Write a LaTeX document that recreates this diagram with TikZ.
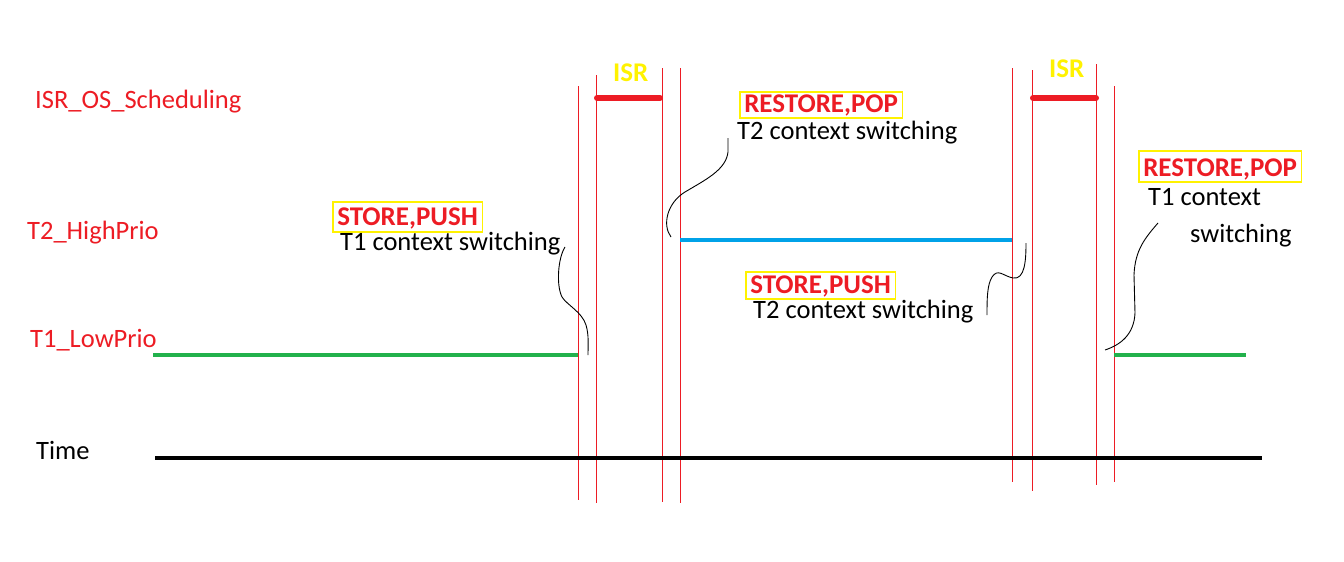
\documentclass[tikz,border=0pt]{standalone}
\usepackage{fontspec}
\setmainfont{Carlito}
\definecolor{pred}{HTML}{ED1C24}
\definecolor{pgreen}{HTML}{22B14C}
\definecolor{pblue}{HTML}{00A2E8}
\definecolor{pyellow}{HTML}{FFF200}
\begin{document}
\begin{tikzpicture}[x=1pt,y=-1pt,
  lbl/.style={font=\fontsize{26.5}{30}\selectfont, inner sep=0pt, anchor=base west},
  rlbl/.style={lbl, text=pred},
  isrlbl/.style={font=\bfseries\fontsize{27}{30}\selectfont, text=pyellow, inner sep=0pt, anchor=base west},
  tag/.style={font=\bfseries\fontsize{27}{30}\selectfont, text=pred, draw=pyellow, line width=1.5pt, inner xsep=4.5pt, inner ysep=0pt, text depth=6pt, anchor=base west},
  vline/.style={draw=pred, line width=1pt},
  isrbar/.style={draw=pred, line width=6pt, line cap=round},
  task1/.style={draw=pgreen, line width=4pt},
  task2/.style={draw=pblue, line width=4pt},
  timeline/.style={draw=black, line width=4pt},
  curvy/.style={draw=black, line width=0.9pt}
]
\useasboundingbox[fill=white] (0,0) rectangle (1344,562);

% row labels
\node[rlbl] (lisr) at (35,108) {ISR\_OS\_Scheduling};
\node[rlbl] (lt2) at (27,239) {T2\_HighPrio};
\node[rlbl] (lt1) at (30,347) {T1\_LowPrio};
\node[lbl] (ltime) at (36,459) {Time};

% vertical red lines
\foreach \n/\x/\t/\b in {v1/578/86/500, v2/596/75/503, v3/662/68/502, v4/680/68/503,
                         v5/1012/68/482, v6/1032/70/491, v7/1096/64/485, v8/1114/86/482} {
  \coordinate (\n t) at (\x,\t);
  \coordinate (\n b) at (\x,\b);
  \draw[vline] (\n t) -- (\n b);
}

% time axis
\coordinate (ta) at (155,458);
\coordinate (tb) at (1262,458);
\draw[timeline] (ta) -- (tb);

% ISR bars
\coordinate (i1a) at (597,98); \coordinate (i1b) at (660,98);
\coordinate (i2a) at (1033,98); \coordinate (i2b) at (1096,98);
\draw[isrbar] (i1a) -- (i1b);
\draw[isrbar] (i2a) -- (i2b);
\node[isrlbl] (isr1) at (613,81) {ISR};
\node[isrlbl] (isr2) at (1049,77) {ISR};

% tasks
\coordinate (g1a) at (153,355); \coordinate (g1b) at (578,355);
\coordinate (g2a) at (1114,355); \coordinate (g2b) at (1246,355);
\coordinate (b1a) at (680,240); \coordinate (b1b) at (1012,240);
\draw[task1] (g1a) -- (g1b);
\draw[task1] (g2a) -- (g2b);
\draw[task2] (b1a) -- (b1b);

% annotations
\node[tag, text height=23pt, text depth=7pt] (s1) at (332,225) {STORE,PUSH};
\node[lbl] (s1t) at (340,250) {T1 context switching};
\node[tag, text height=20pt] (r1) at (739,112) {RESTORE,POP};
\node[lbl] (r1t) at (737,139) {T2 context switching};
\node[tag, text height=21pt] (s2) at (745,293) {STORE,PUSH};
\node[lbl] (s2t) at (753,318) {T2 context switching};
\node[tag, text height=25pt] (r2) at (1138,176) {RESTORE,POP};
\node[lbl] (r2t) at (1148,205) {T1 context};
\node[lbl] (r2u) at (1190,242) {switching};

% squiggly pointers
\coordinate (c1a) at (565,247); \coordinate (c1b) at (588,355);
\draw[curvy] (c1a) .. controls (558,258) and (556,285) .. (562,297)
  .. controls (567,305) and (582,312) .. (586,325)
  .. controls (589,335) and (588,345) .. (c1b);
\coordinate (c2a) at (728,138); \coordinate (c2b) at (671,237);
\draw[curvy] (c2a) -- (728,152) .. controls (726,170) and (705,180) .. (685,192)
  .. controls (667,203) and (662,225) .. (c2b);
\coordinate (c3a) at (1026,243); \coordinate (c3b) at (987,315);
\draw[curvy] (c3a) .. controls (1026,260) and (1025,280) .. (1013,278)
  .. controls (1003,276) and (998,268) .. (992,277)
  .. controls (987,285) and (987,300) .. (c3b);
\coordinate (c4a) at (1158,223); \coordinate (c4b) at (1105,350);
\draw[curvy] (c4a) .. controls (1145,238) and (1135,250) .. (1134,275)
  -- (1135,313) .. controls (1134,335) and (1120,345) .. (c4b);
\end{tikzpicture}
\end{document}
